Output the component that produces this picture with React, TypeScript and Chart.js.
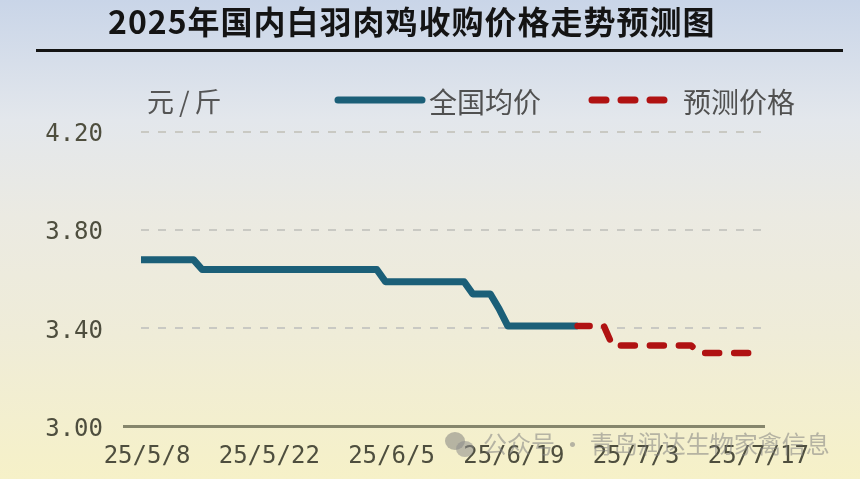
import { useEffect, useRef } from 'react'
import { Chart, registerables } from 'chart.js'

Chart.register(...registerables)

// daily categories, 25/5/8 .. 25/7/18
const dates = [
  '25/5/8', '25/5/9', '25/5/10', '25/5/11', '25/5/12', '25/5/13', '25/5/14', '25/5/15',
  '25/5/16', '25/5/17', '25/5/18', '25/5/19', '25/5/20', '25/5/21', '25/5/22', '25/5/23',
  '25/5/24', '25/5/25', '25/5/26', '25/5/27', '25/5/28', '25/5/29', '25/5/30', '25/5/31',
  '25/6/1', '25/6/2', '25/6/3', '25/6/4', '25/6/5', '25/6/6', '25/6/7', '25/6/8',
  '25/6/9', '25/6/10', '25/6/11', '25/6/12', '25/6/13', '25/6/14', '25/6/15', '25/6/16',
  '25/6/17', '25/6/18', '25/6/19', '25/6/20', '25/6/21', '25/6/22', '25/6/23', '25/6/24',
  '25/6/25', '25/6/26', '25/6/27', '25/6/28', '25/6/29', '25/6/30',
  '25/7/1', '25/7/2', '25/7/3', '25/7/4', '25/7/5', '25/7/6', '25/7/7', '25/7/8',
  '25/7/9', '25/7/10', '25/7/11', '25/7/12', '25/7/13', '25/7/14', '25/7/15', '25/7/16',
  '25/7/17', '25/7/18',
]

const tickLabels = ['25/5/8', '25/5/22', '25/6/5', '25/6/19', '25/7/3', '25/7/17']

// 全国均价 (元/斤)
const nationalAvg = [
  3.68, 3.68, 3.68, 3.68, 3.68, 3.68, 3.68, 3.64,
  3.64, 3.64, 3.64, 3.64, 3.64, 3.64, 3.64, 3.64,
  3.64, 3.64, 3.64, 3.64, 3.64, 3.64, 3.64, 3.64,
  3.64, 3.64, 3.64, 3.64, 3.59, 3.59, 3.59, 3.59,
  3.59, 3.59, 3.59, 3.59, 3.59, 3.59, 3.54, 3.54,
  3.54, 3.48, 3.41, 3.41, 3.41, 3.41, 3.41, 3.41,
  3.41, 3.41, 3.41, null, null, null,
  null, null, null, null, null, null, null, null,
  null, null, null, null, null, null, null, null,
  null, null,
]

// 预测价格 (元/斤)
const forecast = [
  null, null, null, null, null, null, null, null,
  null, null, null, null, null, null, null, null,
  null, null, null, null, null, null, null, null,
  null, null, null, null, null, null, null, null,
  null, null, null, null, null, null, null, null,
  null, null, null, null, null, null, null, null,
  null, null, 3.41, 3.41, 3.41, 3.41,
  3.33, 3.33, 3.33, 3.33, 3.33, 3.33, 3.33, 3.33,
  3.33, 3.33, 3.30, 3.30, 3.30, 3.30, 3.30, 3.30,
  3.30, 3.30,
]

const BLUE = '#1b5f78'
const RED = '#b01212'
const AXIS_TEXT = '#4e4e3e'
const MONO = '"DejaVu Sans Mono", monospace'
const CJK = '"Noto Sans CJK SC", sans-serif'

const baselinePlugin = {
  id: 'baseline',
  beforeDatasetsDraw(chart: any) {
    const { ctx, chartArea, scales } = chart
    const y = scales.y.getPixelForValue(3)
    ctx.save()
    ctx.strokeStyle = '#86866c'
    ctx.lineWidth = 3
    ctx.beginPath()
    ctx.moveTo(chartArea.left - 18, y)
    ctx.lineTo(chartArea.right + 4, y)
    ctx.stroke()
    ctx.restore()
  },
}

function PriceChart() {
  const canvasRef = useRef<HTMLCanvasElement>(null)
  const chartRef = useRef<Chart | null>(null)

  useEffect(() => {
    if (!canvasRef.current) return
    chartRef.current?.destroy()
    chartRef.current = new Chart(canvasRef.current, {
      type: 'line',
      data: {
        labels: dates,
        datasets: [
          {
            label: '预测价格',
            data: forecast,
            borderColor: RED,
            borderWidth: 6.5,
            borderDash: [14, 15],
            borderDashOffset: 2,
            borderCapStyle: 'round',
            borderJoinStyle: 'round',
            pointRadius: 0,
            tension: 0,
            spanGaps: false,
            order: 0,
          },
          {
            label: '全国均价',
            data: nationalAvg,
            borderColor: BLUE,
            borderWidth: 7,
            borderCapStyle: 'butt',
            borderJoinStyle: 'round',
            pointRadius: 0,
            tension: 0,
            spanGaps: false,
            order: 1,
          },
        ],
      },
      options: {
        responsive: true,
        maintainAspectRatio: false,
        animation: false,
        layout: { padding: { left: 46, right: 99, top: 132, bottom: 10 } },
        plugins: {
          legend: { display: false },
          title: { display: false },
          tooltip: { enabled: false },
        },
        scales: {
          x: {
            offset: false,
            grid: { display: false, drawTicks: false },
            border: { display: false },
            afterFit: (scale: any) => { scale.height = 39 },
            afterBuildTicks: (scale: any) => {
              scale.ticks = scale.ticks.filter((t: any) => tickLabels.includes(dates[t.value]))
            },
            ticks: {
              autoSkip: false,
              maxRotation: 0,
              minRotation: 0,
              padding: 16,
              labelOffset: 6,
              color: AXIS_TEXT,
              font: { family: MONO, size: 24 },
            },
          },
          y: {
            min: 3.0,
            max: 4.2,
            afterFit: (scale: any) => { scale.width = 95 },
            grid: {
              drawTicks: false,
              lineWidth: 2,
              color: (ctx: any) =>
                ctx.tick && Math.abs(ctx.tick.value - 3) < 1e-6 ? 'rgba(0,0,0,0)' : '#c9c9c3',
            },
            border: { display: false, dash: [8, 9] },
            ticks: {
              stepSize: 0.4,
              padding: 38,
              labelOffset: 3,
              color: AXIS_TEXT,
              font: { family: MONO, size: 24 },
              callback: (v: any) => Number(v).toFixed(2),
            },
          },
        },
      },
      plugins: [baselinePlugin],
    })
    return () => chartRef.current?.destroy()
  }, [])

  return <canvas ref={canvasRef} />
}

export default function App() {
  useEffect(() => {
    document.body.style.margin = '0'
  }, [])

  const abs = (s: any) => ({ position: 'absolute' as const, ...s })

  return (
    <div
      style={{
        position: 'relative',
        width: 860,
        height: 479,
        overflow: 'hidden',
        background: 'linear-gradient(180deg, #c9d5e8 0%, #e3e7ec 25%, #ebeae2 45%, #efecd8 70%, #f6f1c8 100%)',
      }}
    >
      <div style={abs({ left: 0, top: 0, width: 860, height: 479 })}>
        <PriceChart />
      </div>

      <div
        style={abs({
          left: 108, top: -1, fontFamily: CJK, fontWeight: 700, fontSize: 32,
          lineHeight: '42px', letterSpacing: 1, color: '#141414', whiteSpace: 'nowrap',
        })}
      >
        2025年国内白羽肉鸡收购价格走势预测图
      </div>
      <div style={abs({ left: 36, top: 49, width: 807, height: 3, background: '#141414' })} />

      <div
        style={abs({
          left: 147, top: 82, fontFamily: CJK, fontSize: 27, lineHeight: '38px',
          letterSpacing: 5, color: '#555',
        })}
      >
        元/斤
      </div>

      <svg style={abs({ left: 334, top: 92, overflow: 'visible' })} width={92} height={16}>
        <line x1={4} y1={8} x2={88} y2={8} stroke={BLUE} strokeWidth={7} strokeLinecap="round" />
      </svg>
      <div style={abs({ left: 429, top: 82, fontFamily: CJK, fontSize: 28, lineHeight: '38px', color: '#505050' })}>
        全国均价
      </div>
      <svg style={abs({ left: 586, top: 92, overflow: 'visible' })} width={84} height={16}>
        <line x1={6} y1={8} x2={80} y2={8} stroke={RED} strokeWidth={7} strokeLinecap="round" strokeDasharray="14 15" />
      </svg>
      <div style={abs({ left: 683, top: 82, fontFamily: CJK, fontSize: 28, lineHeight: '38px', color: '#505050' })}>
        预测价格
      </div>

      <svg style={abs({ left: 443, top: 430 })} width={34} height={30}>
        <ellipse cx={12} cy={11} rx={10} ry={9} fill="rgba(120,120,120,0.5)" />
        <ellipse cx={22} cy={19} rx={9} ry={8} fill="rgba(140,140,140,0.55)" />
      </svg>
      <div
        style={abs({
          left: 483, top: 426, fontFamily: CJK, fontSize: 24, lineHeight: '34px',
          color: 'rgba(130,130,130,0.55)', whiteSpace: 'nowrap',
        })}
      >
        公众号 · 青岛润达生物家禽信息
      </div>
    </div>
  )
}
